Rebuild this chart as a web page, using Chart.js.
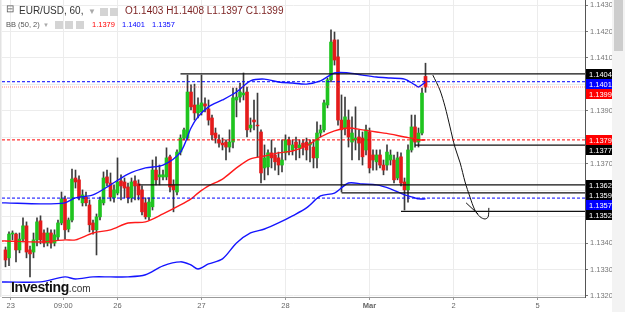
<!DOCTYPE html>
<html lang="en">
<head>
<meta charset="UTF-8">
<title>EUR/USD 60</title>
<script src="https://cdn.jsdelivr.net/npm/chart.js@4.4.1/dist/chart.umd.min.js"></script>
<style>
    body { margin: 0; background: #fff; font-family: 'Liberation Sans', Arial, sans-serif; }
    #wrap { position: relative; width: 625px; height: 312px; overflow: hidden; }
    .abs { position: absolute; white-space: nowrap; }
    .l1 { font-size: 10px; color: #333; top: 5px; }
    .l2 { font-size: 7.5px; color: #555; top: 20px; }
    .ico { position: absolute; background: #d4d4d4; }
    .logo { left: 11px; top: 279px; font-weight: bold; font-size: 14px; letter-spacing: -0.4px; color: #111; }
    .logo span { font-weight: normal; font-size: 10px; letter-spacing: 0; color: #333; }
</style>
</head>
<body>
<div id="wrap">
    <canvas id="chart" width="625" height="312"></canvas>
    <div class="abs l1" style="left:6px;top:3px;font-size:10px;color:#555">⊟</div>
    <div class="abs l1" style="left:19px">EUR/USD, 60,</div>
    <div class="abs l1" style="left:88px;color:#aaa;font-size:8px;top:7px">▼</div>
    <div class="ico" style="left:100px;top:8px;width:8px;height:8px"></div>
    <div class="ico" style="left:110px;top:8px;width:8px;height:8px"></div>
    <div class="abs l1" id="ohlc" style="left:125px;color:#7a1f1f"></div>
    <div class="abs l2" style="left:6px">BB (50, 2)</div>
    <div class="abs l2" style="left:43px;color:#aaa;font-size:6px;top:22px">▼</div>
    <div class="ico" style="left:55px;top:21px;width:8px;height:8px"></div>
    <div class="ico" style="left:65px;top:21px;width:8px;height:8px"></div>
    <div class="ico" style="left:76px;top:21px;width:8px;height:8px"></div>
    <div class="abs l2" id="bbMidTxt" style="left:92px;color:#ff0000"></div>
    <div class="abs l2" id="bbUpTxt" style="left:122px;color:#0000ff"></div>
    <div class="abs l2" id="bbLowTxt" style="left:152px;color:#0000ff"></div>
    <div class="abs logo">Investing<span>.com</span></div>
</div>
<script>
// hourly candles
const open = [
    1.13374, 1.13344, 1.13434, 1.13434, 1.13374, 1.13415, 1.13465, 1.13374, 1.13366, 1.13412,
    1.13484, 1.13438, 1.13400, 1.13438, 1.13400, 1.13423, 1.13476, 1.13567, 1.13453, 1.13487,
    1.13646, 1.13639, 1.13552, 1.13574, 1.13544, 1.13476, 1.13450, 1.13499, 1.13552, 1.13650,
    1.13627, 1.13571, 1.13589, 1.13635, 1.13631, 1.13612, 1.13571, 1.13635, 1.13624, 1.13601,
    1.13552, 1.13499, 1.13537, 1.13676, 1.13650, 1.13650, 1.13650, 1.13726, 1.13620, 1.13593,
    1.13744, 1.13797, 1.13797, 1.13971, 1.13922, 1.13892, 1.13896, 1.13926, 1.13907, 1.13873,
    1.13816, 1.13790, 1.13778, 1.13782, 1.13763, 1.13782, 1.13941, 1.13952, 1.13960, 1.13971,
    1.13835, 1.13865, 1.13846, 1.13820, 1.13684, 1.13688, 1.13741, 1.13733, 1.13722, 1.13695,
    1.13741, 1.13790, 1.13752, 1.13782, 1.13760, 1.13778, 1.13782, 1.13771, 1.13763, 1.13722,
    1.13816, 1.13828, 1.13922, 1.14017, 1.14168, 1.14104, 1.13865, 1.13835, 1.13865, 1.13782,
    1.13790, 1.13801, 1.13797, 1.13752, 1.13820, 1.13733, 1.13707, 1.13733, 1.13695, 1.13695,
    1.13714, 1.13714, 1.13646, 1.13726, 1.13631, 1.13601, 1.13752, 1.13839, 1.13782, 1.13816,
    1.1403
];
const high = [
    1.13385, 1.13442, 1.13446, 1.13438, 1.13438, 1.13495, 1.13480, 1.13389, 1.13438, 1.13495,
    1.13503, 1.13450, 1.13457, 1.13450, 1.13450, 1.13487, 1.13593, 1.13578, 1.13495, 1.13680,
    1.13676, 1.13654, 1.13601, 1.13593, 1.13563, 1.13487, 1.13510, 1.13574, 1.13669, 1.13676,
    1.13665, 1.13620, 1.13722, 1.13658, 1.13646, 1.13627, 1.13646, 1.13654, 1.13639, 1.13616,
    1.13571, 1.13571, 1.13714, 1.13726, 1.13695, 1.13676, 1.13760, 1.13733, 1.13639, 1.13752,
    1.13809, 1.13835, 1.14035, 1.13998, 1.14001, 1.13949, 1.14035, 1.13949, 1.13941, 1.13884,
    1.13835, 1.13809, 1.13797, 1.13790, 1.13828, 1.13986, 1.13986, 1.14005, 1.14043, 1.13990,
    1.13873, 1.13941, 1.13967, 1.13828, 1.13771, 1.13752, 1.13790, 1.13760, 1.13744, 1.13790,
    1.13809, 1.13801, 1.13790, 1.13801, 1.13790, 1.13790, 1.13797, 1.13790, 1.13790, 1.13858,
    1.13846, 1.13941, 1.14024, 1.14206, 1.14198, 1.14168, 1.13960, 1.13952, 1.13903, 1.13877,
    1.13915, 1.13828, 1.13820, 1.13846, 1.13835, 1.13752, 1.13752, 1.13752, 1.13714, 1.13771,
    1.13752, 1.13733, 1.13744, 1.13741, 1.13646, 1.13771, 1.13884, 1.13884, 1.13835, 1.13986,
    1.1408
];
const low = [
    1.13310, 1.13314, 1.13412, 1.13329, 1.13363, 1.13404, 1.13344, 1.13272, 1.13344, 1.13389,
    1.13397, 1.13385, 1.13389, 1.13381, 1.13389, 1.13412, 1.13469, 1.13415, 1.13442, 1.13480,
    1.13608, 1.13563, 1.13540, 1.13540, 1.13442, 1.13434, 1.13355, 1.13487, 1.13544, 1.13616,
    1.13559, 1.13555, 1.13582, 1.13563, 1.13571, 1.13552, 1.13555, 1.13563, 1.13563, 1.13506,
    1.13491, 1.13487, 1.13525, 1.13620, 1.13620, 1.13639, 1.13639, 1.13593, 1.13518, 1.13582,
    1.13733, 1.13790, 1.13790, 1.13903, 1.13865, 1.13873, 1.13884, 1.13896, 1.13846, 1.13790,
    1.13778, 1.13763, 1.13752, 1.13714, 1.13744, 1.13760, 1.13877, 1.13933, 1.13941, 1.13801,
    1.13820, 1.13828, 1.13726, 1.13627, 1.13639, 1.13658, 1.13684, 1.13676, 1.13658, 1.13669,
    1.13714, 1.13733, 1.13733, 1.13714, 1.13722, 1.13733, 1.13714, 1.13707, 1.13684, 1.13684,
    1.13801, 1.13820, 1.13911, 1.14009, 1.14073, 1.13846, 1.13593, 1.13809, 1.13763, 1.13714,
    1.13752, 1.13714, 1.13695, 1.13733, 1.13665, 1.13676, 1.13676, 1.13684, 1.13658, 1.13676,
    1.13695, 1.13627, 1.13639, 1.13616, 1.13525, 1.13555, 1.13744, 1.13763, 1.13763, 1.13809,
    1.1397
];
const close = [
    1.13336, 1.13434, 1.13438, 1.13374, 1.13415, 1.13465, 1.13366, 1.13359, 1.13412, 1.13480,
    1.13412, 1.13400, 1.13438, 1.13400, 1.13431, 1.13476, 1.13567, 1.13450, 1.13487, 1.13642,
    1.13631, 1.13571, 1.13582, 1.13552, 1.13469, 1.13450, 1.13499, 1.13563, 1.13646, 1.13627,
    1.13574, 1.13601, 1.13631, 1.13616, 1.13608, 1.13571, 1.13631, 1.13616, 1.13582, 1.13518,
    1.13499, 1.13555, 1.13676, 1.13639, 1.13658, 1.13658, 1.13722, 1.13612, 1.13601, 1.13744,
    1.13797, 1.13828, 1.13971, 1.13915, 1.13892, 1.13922, 1.13930, 1.13918, 1.13865, 1.13809,
    1.13797, 1.13778, 1.13771, 1.13763, 1.13782, 1.13949, 1.13952, 1.13971, 1.13967, 1.13828,
    1.13846, 1.13858, 1.13843, 1.13665, 1.13722, 1.13741, 1.13722, 1.13707, 1.13695, 1.13714,
    1.13790, 1.13771, 1.13771, 1.13760, 1.13771, 1.13763, 1.13752, 1.13778, 1.13722, 1.13816,
    1.13828, 1.13930, 1.14017, 1.14160, 1.14092, 1.13865, 1.13828, 1.13877, 1.13801, 1.13816,
    1.13797, 1.13778, 1.13726, 1.13828, 1.13684, 1.13714, 1.13733, 1.13695, 1.13676, 1.13744,
    1.13733, 1.13639, 1.13722, 1.13627, 1.13601, 1.13752, 1.13839, 1.13782, 1.13816, 1.13967,
    1.1399
];

// Bollinger band (50, 2) traced at some candles
const bbIndex = [-1, 0, 10, 17, 20, 25, 30, 35, 40, 45, 50, 53, 55, 58, 62, 66, 70, 74, 78, 82, 86, 90, 94, 98, 102, 106, 110, 114, 117, 118, 120];
const bbUpper = [1.13552, 1.13552, 1.13548, 1.13552, 1.13571, 1.13582, 1.13620, 1.13661, 1.13684, 1.13695, 1.13744, 1.13835, 1.13877, 1.13915, 1.13941, 1.13971, 1.14013, 1.14020, 1.14009, 1.14005, 1.14001, 1.14013, 1.14043, 1.14043, 1.14035, 1.14028, 1.14024, 1.14020, 1.13998, 1.13990, 1.14009];
const bbMiddle = [1.13408, 1.13408, 1.13404, 1.13412, 1.13412, 1.13438, 1.13450, 1.13476, 1.13480, 1.13510, 1.13544, 1.13567, 1.13589, 1.13616, 1.13642, 1.13684, 1.13718, 1.13729, 1.13741, 1.13748, 1.13767, 1.13801, 1.13824, 1.13835, 1.13828, 1.13820, 1.13812, 1.13801, 1.13794, 1.13790, 1.13790];
const bbLower = [1.13253, 1.13253, 1.13253, 1.13272, 1.13264, 1.13272, 1.13272, 1.13272, 1.13280, 1.13314, 1.13329, 1.13317, 1.13302, 1.13321, 1.13340, 1.13400, 1.13438, 1.13453, 1.13476, 1.13503, 1.13533, 1.13578, 1.13589, 1.13627, 1.13623, 1.13620, 1.13605, 1.13582, 1.13571, 1.13567, 1.13567];
const bbLast = { upper: 1.1401, middle: 1.1379, lower: 1.1357 };
const lastPrice = 1.1399;

// horizontal lines drawn on the chart (price, first candle)
const levelPrices = [1.1404, 1.1377, 1.1362, 1.1359, 1.1352];
const levelStart = [50, 117, 38, 96, 113];

// hand drawn arrow (hours, price)
const drawHours = [123.1, 125.1, 126.6, 128, 129.4, 130.9, 132.3, 133.7, 135.1, 136.6, 138, 138.9, 139.1];
const drawPrices = [1.14035, 1.13979, 1.13915, 1.13839, 1.13763, 1.13703, 1.13631, 1.13574, 1.13525, 1.13499, 1.13491, 1.13499, 1.13533];
const hookHours = [132.6, 136];
const hookPrices = [1.13552, 1.13510];

// axes
const tickHours = [2.5, 17.5, 33, 57, 81, 105, 129, 153];
const tickLabels = ['23', '09:00', '26', '27', '28', 'Mar', '2', '5'];
const priceTicks = [1.132, 1.133, 1.134, 1.135, 1.136, 1.137, 1.138, 1.139, 1.140, 1.141, 1.142, 1.143];
const hiddenPriceTicks = [1.135, 1.136, 1.138, 1.140];
const yMin = 1.13196, yMax = 1.14319, xMax = 166.57;

const last = open.length - 1;
document.getElementById('ohlc').textContent =
    `O${open[last].toFixed(4)} H${high[last].toFixed(4)} L${low[last].toFixed(4)} C${close[last].toFixed(4)}`;
document.getElementById('bbMidTxt').textContent = bbLast.middle.toFixed(4);
document.getElementById('bbUpTxt').textContent = bbLast.upper.toFixed(4);
document.getElementById('bbLowTxt').textContent = bbLast.lower.toFixed(4);

const GREEN = '#1fc41f', RED = '#e41b1b', FONT = "'Liberation Sans', Arial, sans-serif";
const isUp = i => close[i] >= open[i];

const flat = (v, from) => [{ x: from, y: v }, { x: xMax, y: v }];
const lineDs = (data, color, extra) => Object.assign({
    type: 'line', data, borderColor: color, borderWidth: 1, pointRadius: 0, fill: false, order: 1
}, extra);

const datasets = [
    {
        type: 'bar', order: 6, grouped: false, barThickness: 1,
        data: open.map((_, i) => ({ x: i + 1, y: [low[i], high[i]] })),
        backgroundColor: '#3c3c3c'
    },
    {
        type: 'bar', order: 5, grouped: false, barThickness: 3,
        data: open.map((_, i) => ({ x: i + 1, y: [open[i], close[i]] })),
        backgroundColor: ctx => isUp(ctx.dataIndex) ? GREEN : RED,
        borderWidth: 0
    },
    lineDs(bbIndex.map((ix, k) => ({ x: ix + 1, y: bbUpper[k] })), '#1515ff', { borderWidth: 1.4, tension: 0.3, order: 3 }),
    lineDs(bbIndex.map((ix, k) => ({ x: ix + 1, y: bbMiddle[k] })), '#ff1a1a', { borderWidth: 1.4, tension: 0.3, order: 3 }),
    lineDs(bbIndex.map((ix, k) => ({ x: ix + 1, y: bbLower[k] })), '#1515ff', { borderWidth: 1.4, tension: 0.3, order: 3 }),
    lineDs(flat(bbLast.upper, 0), '#0000ff', { borderDash: [3, 2] }),
    lineDs(flat(lastPrice, 0), 'rgba(255,60,60,0.6)', { borderDash: [1, 1] }),
    lineDs(flat(bbLast.middle, 0), '#ff0000', { borderDash: [3, 2] }),
    lineDs(flat(bbLast.lower, 0), '#0000ff', { borderDash: [3, 2] }),
    ...levelPrices.map((v, k) => lineDs(flat(v, levelStart[k] + 1), '#111', { borderWidth: 1.2 })),
    lineDs(drawHours.map((h, k) => ({ x: h, y: drawPrices[k] })), '#111', { tension: 0.3 }),
    lineDs(hookHours.map((h, k) => ({ x: h, y: hookPrices[k] })), '#111')
];

// price boxes on the right axis (stacked so they do not overlap) + scrollbar
const boxPlugin = {
    id: 'boxes',
    afterDraw(chart) {
        const { ctx, scales: { y }, chartArea } = chart;
        const boxes = [
            [levelPrices[0], '#000'], [bbLast.upper, '#0000ff'], [lastPrice, '#ff0000'],
            [bbLast.middle, '#ff0000'], [levelPrices[1], '#000'], [levelPrices[2], '#000'],
            [levelPrices[3], '#000'], [bbLast.lower, '#0000ff'], [levelPrices[4], '#000']
        ].map(([v, c]) => ({ v, c, py: y.getPixelForValue(v) })).sort((a, b) => a.py - b.py);
        for (let k = 1; k < boxes.length; k++) {
            boxes[k].py = Math.max(boxes[k].py, boxes[k - 1].py + 10);
        }
        ctx.save();
        ctx.fillStyle = '#f3f3f3';
        ctx.fillRect(612, 0, 13, 312);
        ctx.fillStyle = '#cdcdcd';
        ctx.fillRect(614, 0, 9, 51);
        ctx.fillStyle = '#e2e2e2';
        ctx.fillRect(0, 0, 1.5, chartArea.bottom);
        ctx.font = '7.5px ' + FONT;
        ctx.textBaseline = 'middle';
        boxes.forEach(({ v, c, py }) => {
            py = Math.round(py);
            ctx.fillStyle = c;
            ctx.fillRect(chartArea.right + 1, py - 5, 26, 10);
            ctx.fillStyle = '#fff';
            ctx.fillText(v.toFixed(4), chartArea.right + 4, py + 0.5);
        });
        ctx.restore();
    }
};

new Chart(document.getElementById('chart'), {
    type: 'bar',
    data: { datasets },
    plugins: [boxPlugin],
    options: {
        responsive: false,
        animation: false,
        devicePixelRatio: 1,
        layout: { padding: { left: 2, right: 13, top: 0, bottom: 0 } },
        plugins: { legend: { display: false }, tooltip: { enabled: false } },
        scales: {
            x: {
                type: 'linear', min: 0, max: xMax, offset: false,
                afterFit: s => { s.height = 15; s.paddingLeft = 0; s.paddingRight = 0; },
                afterBuildTicks: s => { s.ticks = tickHours.map(v => ({ value: v })); },
                grid: { color: '#ececec', tickLength: 3, tickColor: '#999', offset: false },
                border: { color: '#9a9a9a' },
                ticks: {
                    autoSkip: false, maxRotation: 0, padding: 1, color: '#666',
                    font: c => ({ family: FONT, size: 7.5, weight: (c.tick && c.tick.label === 'Mar') ? 'bold' : 'normal' }),
                    callback: (v, i) => tickLabels[i]
                }
            },
            y: {
                position: 'right', min: yMin, max: yMax,
                afterFit: s => { s.width = 27; s.paddingTop = 0; s.paddingBottom = 0; },
                afterBuildTicks: s => { s.ticks = priceTicks.map(v => ({ value: v })); },
                grid: { color: '#ececec', tickLength: 3, tickColor: '#777' },
                border: { color: '#555' },
                ticks: {
                    padding: 2, color: '#777',
                    font: { family: FONT, size: 7.5 },
                    callback: v => hiddenPriceTicks.some(h => Math.abs(h - v) < 1e-6) ? '' : v.toFixed(4)
                }
            }
        }
    }
});
</script>
</body>
</html>
